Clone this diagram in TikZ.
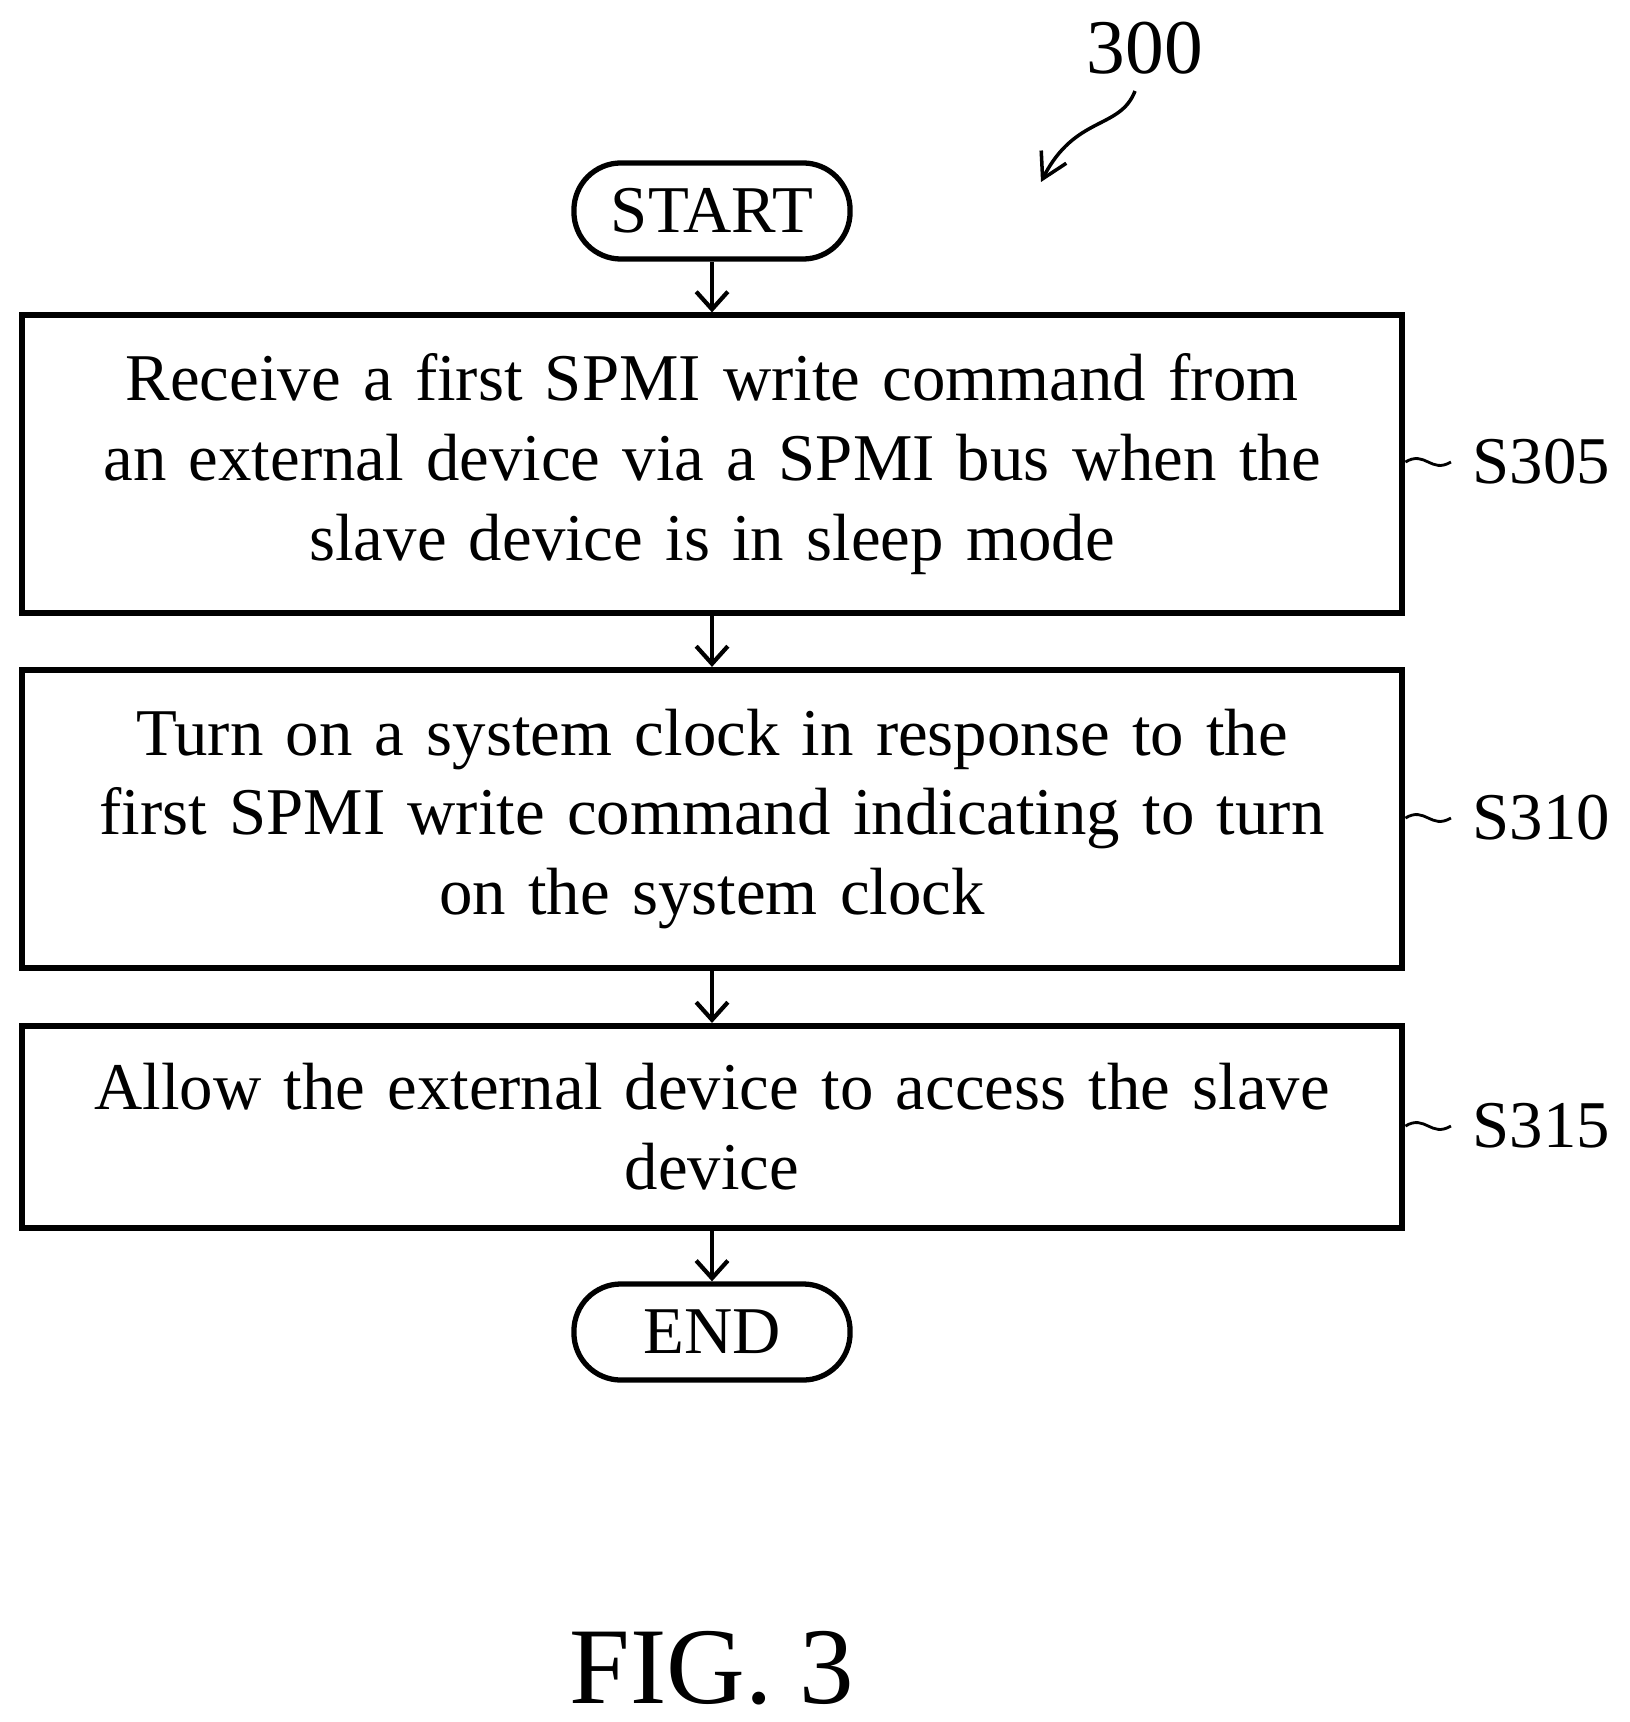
\documentclass[tikz,border=0pt]{standalone}
\usepackage{fontspec}
\setmainfont{Liberation Serif}
\usetikzlibrary{positioning,arrows.meta}
\begin{document}
\begin{tikzpicture}[
   x=0.01cm, y=-0.01cm,
   every node/.style={font=\fontsize{19}{22.7}\selectfont},
   term/.style={draw, line width=1.5pt, rounded corners=0.47cm, minimum width=2.76cm, minimum height=0.96cm, inner sep=0pt},
   proc/.style={draw, line width=1.7pt, minimum width=13.8cm, align=center, text width=13.2cm, inner sep=0pt},
   arrow/.style={-{Straight Barb[length=5pt,width=9pt]}, line width=1.2pt},
   tag/.style={anchor=west, inner sep=0pt}
]
\useasboundingbox (0,0) rectangle (1629,1722);
% Terminals and steps
\node[term] (start) at (712,211) {START};
\node[proc, minimum height=2.97cm] (s305) at (712,464) {Receive a first SPMI write command from\\an external device via a SPMI bus when the\\slave device is in sleep mode};
\node[proc, minimum height=2.98cm] (s310) at (712,819) {Turn on a system clock in response to the\\first SPMI write command indicating to turn\\on the system clock};
\node[proc, minimum height=2.02cm] (s315) at (712,1127) {Allow the external device to access the slave\\device};
\node[term] (end) at (712,1332) {END};
\draw[arrow] (start) -- (s305);
\draw[arrow] (s305) -- (s310);
\draw[arrow] (s310) -- (s315);
\draw[arrow] (s315) -- (end);

% Step labels
\node[tag] (l305) at (1472,462) {S305};
\node[tag] (l310) at (1472,818) {S310};
\node[tag] (l315) at (1472,1126) {S315};
\foreach \s in {305,310,315}
  \draw[line width=0.8pt] (s\s.east |- l\s.west) .. controls +(20,-12) and +(-20,12) .. ([xshift=-6]l\s.west);

% Figure number
\node (ref) at (1145,48) {\fontsize{22}{26}\selectfont 300};
\coordinate (tip) at (1041,182);
\draw[-{Straight Barb[length=7pt,width=8pt]}, line width=1pt] (1135,91) .. controls (1120,130) and (1075,115) .. (tip);
\node (fig) at (712,1668) {\fontsize{31}{36}\selectfont FIG. 3};
\end{tikzpicture}
\end{document}
